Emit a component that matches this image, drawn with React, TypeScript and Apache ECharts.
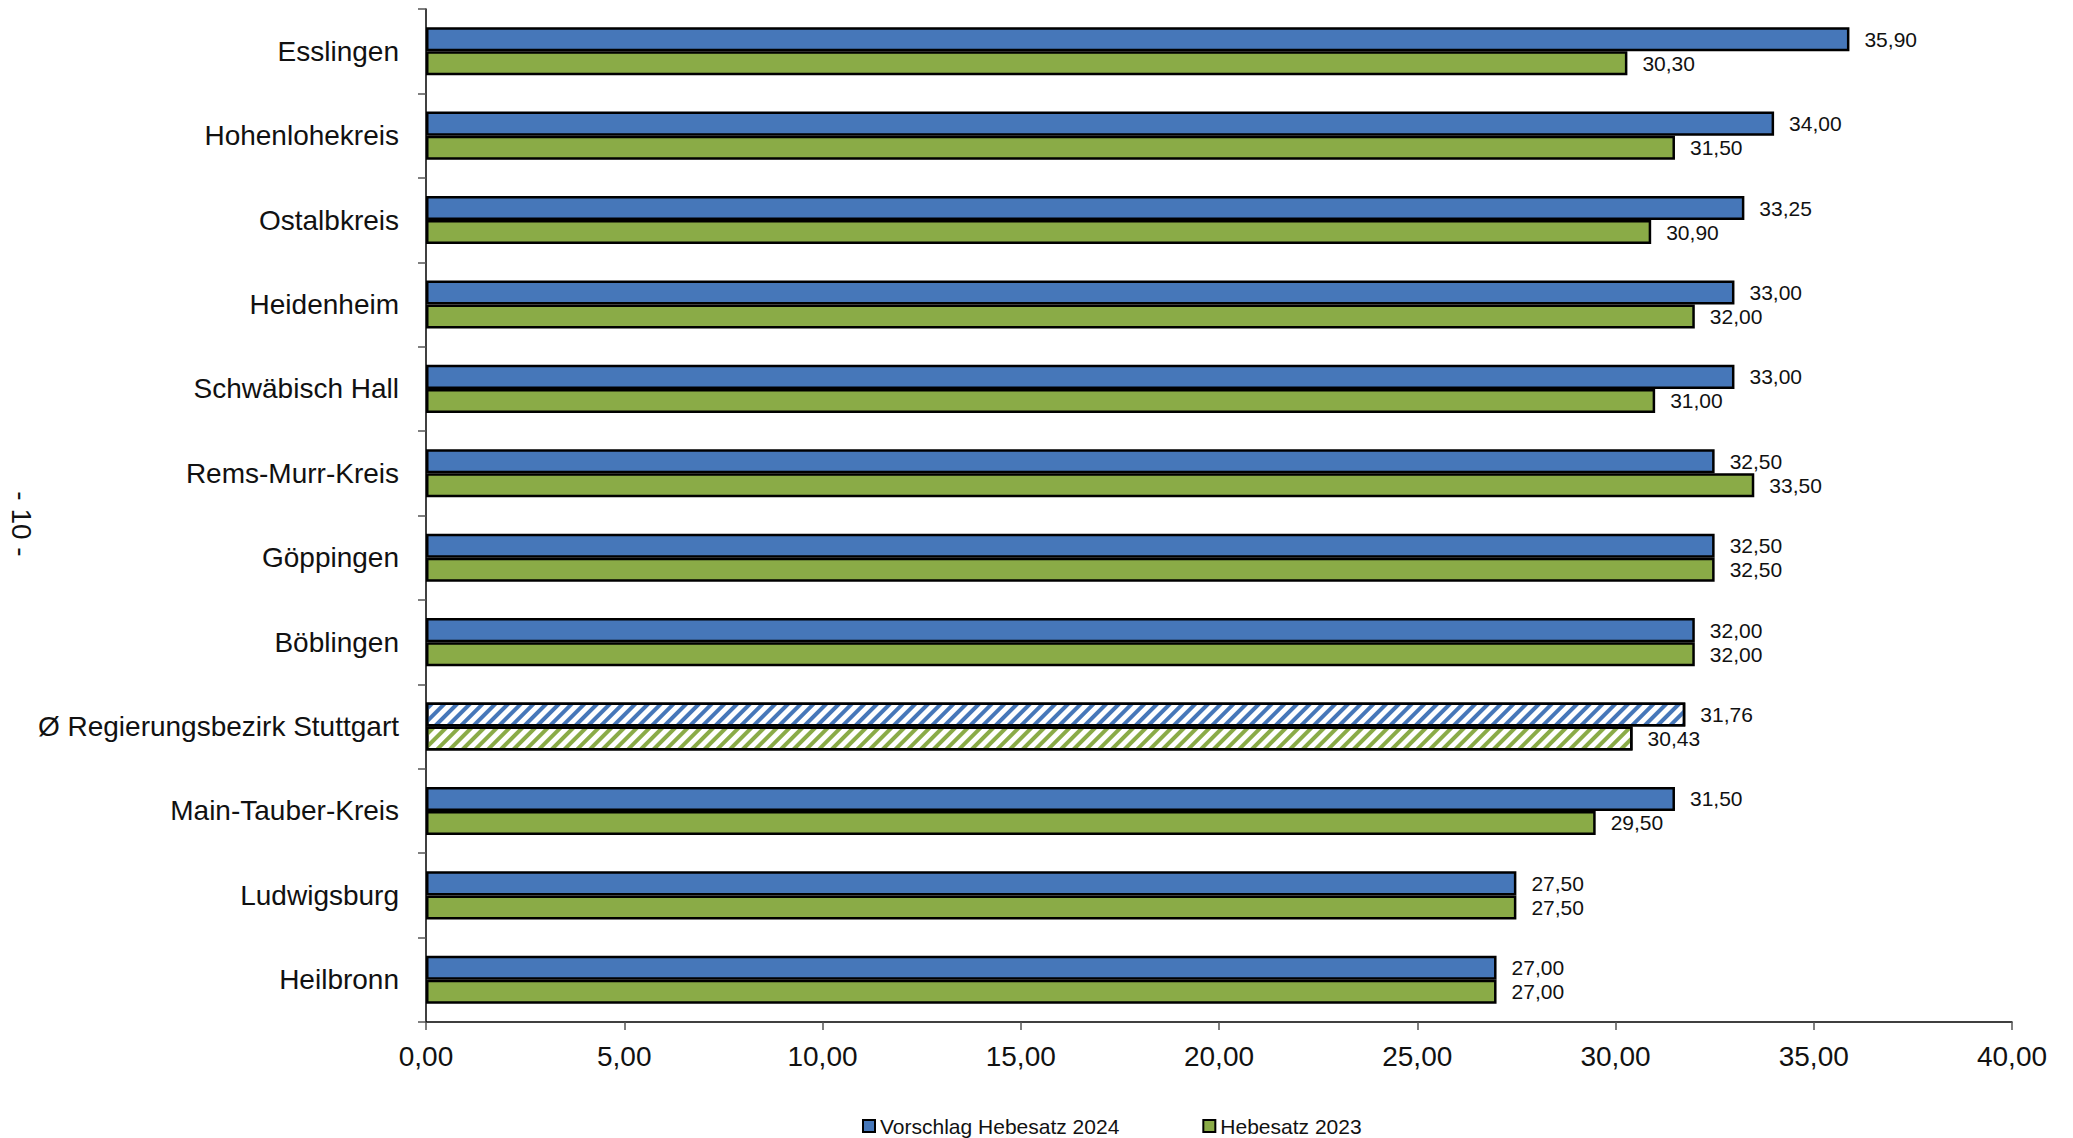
import React, { useEffect, useRef } from "react";
import * as echarts from "echarts";

const categories = [
  "Esslingen",
  "Hohenlohekreis",
  "Ostalbkreis",
  "Heidenheim",
  "Schwäbisch Hall",
  "Rems-Murr-Kreis",
  "Göppingen",
  "Böblingen",
  "Ø Regierungsbezirk Stuttgart",
  "Main-Tauber-Kreis",
  "Ludwigsburg",
  "Heilbronn",
];

const vorschlag2024 = [35.9, 34.0, 33.25, 33.0, 33.0, 32.5, 32.5, 32.0, 31.76, 31.5, 27.5, 27.0];
const hebesatz2023 = [30.3, 31.5, 30.9, 32.0, 31.0, 33.5, 32.5, 32.0, 30.43, 29.5, 27.5, 27.0];

const xTicks = { min: 0, max: 40, interval: 5 };

const BLUE = "#4677b9";
const GREEN = "#8aab47";
const AVERAGE_ROW = "Ø Regierungsbezirk Stuttgart";

const fmt = (v: number) => v.toFixed(2).replace(".", ",");

// The district average row is drawn hatched instead of solid
function buildData(values: number[], color: string) {
  return values.map((v, i) => {
    if (categories[i] === AVERAGE_ROW) {
      return {
        value: v,
        itemStyle: {
          color: "#ffffff",
          decal: {
            symbol: "rect",
            color,
            backgroundColor: "#ffffff",
            dashArrayX: [1, 0],
            dashArrayY: [4, 5],
            rotation: -Math.PI / 4,
          },
        },
      };
    }
    return { value: v };
  });
}

export default function App() {
  const ref = useRef<HTMLDivElement>(null);

  useEffect(() => {
    if (!ref.current) return;
    const chart = echarts.init(ref.current, null, { renderer: "svg" });
    const labelStyle = {
      show: true,
      position: "right" as const,
      distance: 15,
      fontFamily: "'Liberation Sans', Arial, sans-serif",
      fontSize: 21,
      color: "#111",
      formatter: (p: any) => fmt(p.value),
    };
    chart.setOption({
      animation: false,
      backgroundColor: "#ffffff",
      grid: { left: 426, right: 61, top: 9, bottom: 116, containLabel: false },
      legend: {
        top: 1115,
        left: 862,
        padding: 0,
        itemWidth: 12,
        itemHeight: 12,
        itemGap: 83,
        icon: "rect",
        textStyle: {
          fontFamily: "'Liberation Sans', Arial, sans-serif",
          fontSize: 21,
          lineHeight: 22,
          color: "#111",
        },
        data: ["Vorschlag Hebesatz 2024", "Hebesatz 2023"],
      },
      xAxis: {
        type: "value",
        min: xTicks.min,
        max: xTicks.max,
        interval: xTicks.interval,
        splitLine: { show: false },
        axisLine: { show: true, lineStyle: { color: "#000", width: 1.5 } },
        axisTick: { show: true, length: 8, lineStyle: { color: "#555", width: 1.5 } },
        axisLabel: {
          margin: 20,
          fontFamily: "'Liberation Sans', Arial, sans-serif",
          fontSize: 28,
          color: "#111",
          formatter: (v: number) => fmt(v),
        },
      },
      yAxis: {
        type: "category",
        inverse: true,
        data: categories,
        axisLine: { show: true, lineStyle: { color: "#000", width: 1.5 } },
        axisTick: { show: true, length: 8, lineStyle: { color: "#555", width: 1.5 } },
        axisLabel: {
          margin: 27,
          fontFamily: "'Liberation Sans', Arial, sans-serif",
          fontSize: 28,
          color: "#111",
        },
      },
      series: [
        {
          name: "Vorschlag Hebesatz 2024",
          type: "bar",
          barGap: "0%",
          barCategoryGap: "43%",
          itemStyle: { color: BLUE, borderColor: "#000", borderWidth: 2.5 },
          label: labelStyle,
          data: buildData(vorschlag2024, BLUE),
        },
        {
          name: "Hebesatz 2023",
          type: "bar",
          barGap: "0%",
          barCategoryGap: "43%",
          itemStyle: { color: GREEN, borderColor: "#000", borderWidth: 2.5 },
          label: labelStyle,
          data: buildData(hebesatz2023, GREEN),
        },
      ],
      graphic: [
        {
          type: "text",
          x: 21,
          y: 524,
          rotation: -Math.PI / 2,
          style: {
            text: "- 10 -",
            fontFamily: "'Liberation Sans', Arial, sans-serif",
            fontSize: 28,
            fill: "#111",
            align: "center",
            verticalAlign: "middle",
          },
        },
      ],
    });
    return () => chart.dispose();
  }, []);

  return (
    <div
      ref={ref}
      style={{ position: "absolute", left: 0, top: 0, width: 2073, height: 1138 }}
    />
  );
}
